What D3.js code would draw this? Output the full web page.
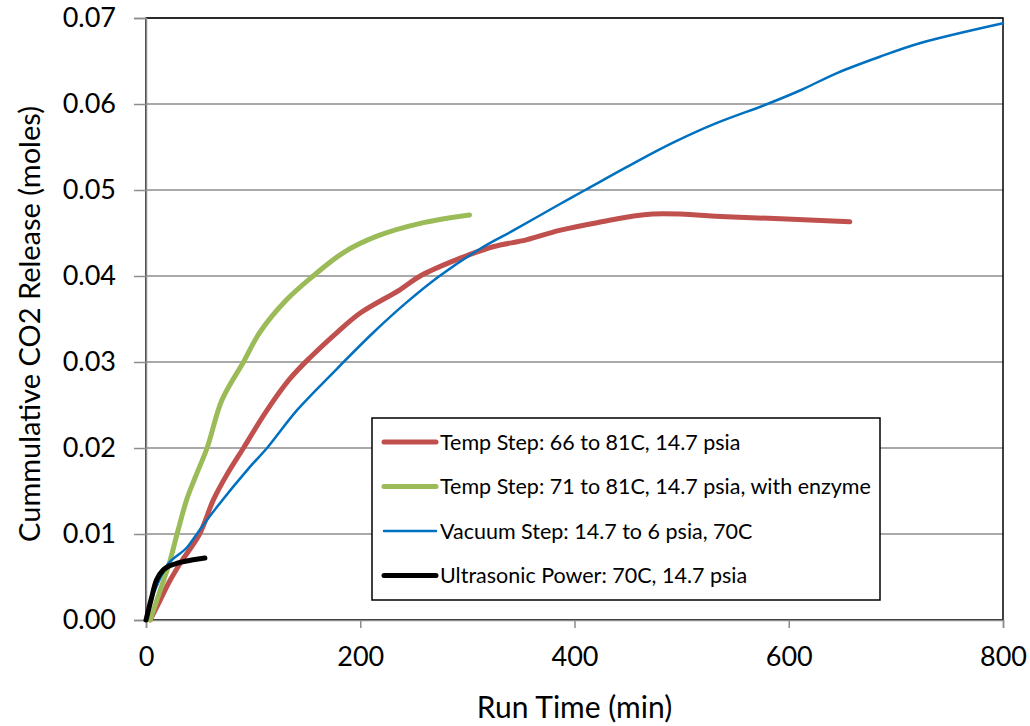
<!DOCTYPE html>
<html>
<head>
<meta charset="utf-8">
<script src="https://d3js.org/d3.v7.min.js"></script>
<style>
    body { margin: 0; background: #fff; }
    text { font-family: Lato, "Open Sans", sans-serif; fill: #000; }
</style>
</head>
<body>
<div id="chart"></div>
<script>

// series data: [run time (min), cumulative CO2 (moles)]
let tempStep66 = [[4, 0], [12, 0.002], [22, 0.0045], [32, 0.0066], [50, 0.01], [63, 0.014], [76, 0.017],
    [91, 0.02], [113, 0.0244], [134, 0.028], [153, 0.0305], [178, 0.0334], [200, 0.0357], [237, 0.0384],
    [256, 0.04], [290, 0.0419], [324, 0.0434], [355, 0.0442], [386, 0.0453], [421, 0.0462],
    [473, 0.0472], [542, 0.0469], [657, 0.0463]];

let tempStep71 = [[4, 0], [12, 0.003], [22, 0.0067], [29, 0.01], [38, 0.014], [46, 0.0166], [57, 0.02],
    [71, 0.0256], [91, 0.03], [106, 0.0334], [131, 0.0372], [156, 0.04], [184, 0.0427], [215, 0.0446],
    [259, 0.0462], [302, 0.0471]];

let vacuumStep = [[0, 0], [4, 0.002], [12, 0.0045], [21, 0.0066], [38, 0.0084], [48, 0.0101],
    [66, 0.0131], [97, 0.0178], [113, 0.02], [141, 0.0244], [175, 0.0288], [212, 0.0334],
    [243, 0.0369], [274, 0.04], [315, 0.0434], [343, 0.0453], [384, 0.0482], [410, 0.05], [458, 0.0533],
    [492, 0.0555], [529, 0.0576], [580, 0.06], [611, 0.0616], [645, 0.0636], [685, 0.0655],
    [723, 0.0671], [800, 0.0694]];

let ultrasonic = [[0, 0], [5, 0.0025], [10, 0.0047], [16, 0.0058], [22, 0.0063], [29, 0.0066],
    [44, 0.007], [55, 0.0072]];

let seriesNames = ["Temp Step: 66 to 81C, 14.7 psia",
    "Temp Step: 71 to 81C, 14.7 psia, with enzyme",
    "Vacuum Step: 14.7 to 6 psia, 70C",
    "Ultrasonic Power: 70C, 14.7 psia"];
let seriesData = [tempStep66, tempStep71, vacuumStep, ultrasonic];
let seriesColors = ["#C0504D", "#9BBB59", "#0070C0", "#000000"];
let seriesWidths = [5, 5, 2.5, 5];

let xTicks = [0, 200, 400, 600, 800];
let yTicks = [0, 0.01, 0.02, 0.03, 0.04, 0.05, 0.06, 0.07];

let width = 1030, height = 726;
let margin = {top: 18, right: 27, bottom: 106, left: 146};
let innerW = width - margin.left - margin.right;
let innerH = height - margin.top - margin.bottom;

let svg = d3.select("#chart").append("svg")
    .attr("width", width)
    .attr("height", height);

let g = svg.append("g")
    .attr("transform", `translate(${margin.left}, ${margin.top})`);

let x = d3.scaleLinear().domain([0, 800]).range([0, innerW]);
let y = d3.scaleLinear().domain([0, 0.07]).range([innerH, 0]);

// horizontal gridlines
g.selectAll(".grid")
    .data(yTicks)
    .enter().append("line")
    .attr("class", "grid")
    .attr("x1", 0).attr("x2", innerW)
    .attr("y1", d => y(d)).attr("y2", d => y(d))
    .attr("stroke", "#8c8c8c")
    .attr("stroke-width", 1.5);

// plot area border (black top and right)
g.append("rect")
    .attr("width", innerW).attr("height", innerH)
    .attr("fill", "none")
    .attr("stroke", "#000")
    .attr("stroke-width", 1.5);

// y axis
let yAxis = g.append("g")
    .call(d3.axisLeft(y).tickValues(yTicks).tickFormat(d3.format(".2f")).tickSize(12).tickPadding(18));

// x axis
let xAxis = g.append("g")
    .attr("transform", `translate(0, ${innerH})`)
    .call(d3.axisBottom(x).tickValues(xTicks).tickFormat(d3.format("d")).tickSize(8).tickPadding(19));

[yAxis, xAxis].forEach(ax => {
    ax.select(".domain").attr("stroke", "#8c8c8c").attr("stroke-width", 1.5);
    ax.selectAll(".tick line").attr("stroke", "#8c8c8c").attr("stroke-width", 1.5);
    ax.selectAll(".tick text").attr("font-size", 27).attr("font-family", "Lato, sans-serif").attr("fill", "#000");
});

// lines
let line = d3.line()
    .x(d => x(d[0]))
    .y(d => y(d[1]))
    .curve(d3.curveCatmullRom.alpha(0.5));

seriesData.forEach((data, i) => {
    g.append("path")
        .datum(data)
        .attr("fill", "none")
        .attr("stroke", seriesColors[i])
        .attr("stroke-width", seriesWidths[i])
        .attr("stroke-linecap", "round")
        .attr("stroke-linejoin", "round")
        .attr("d", line);
});

// axis titles
svg.append("text")
    .attr("x", margin.left + innerW / 2)
    .attr("y", 718)
    .attr("text-anchor", "middle")
    .attr("font-size", 30)
    .text("Run Time (min)");

svg.append("text")
    .attr("transform", `translate(40, ${margin.top + innerH / 2 + 5}) rotate(-90)`)
    .attr("text-anchor", "middle")
    .attr("font-size", 29)
    .text("Cummulative CO2 Release (moles)");

// legend
let legend = svg.append("g")
    .attr("transform", "translate(372, 418)");

legend.append("rect")
    .attr("width", 508).attr("height", 182)
    .attr("fill", "#fff")
    .attr("stroke", "#000")
    .attr("stroke-width", 1.5);

let items = legend.selectAll(".item")
    .data(seriesNames)
    .enter().append("g")
    .attr("class", "item")
    .attr("transform", (d, i) => `translate(0, ${24 + i * 44.5})`);

items.append("line")
    .attr("x1", 12).attr("x2", 64)
    .attr("stroke", (d, i) => seriesColors[i])
    .attr("stroke-width", (d, i) => seriesWidths[i])
    .attr("stroke-linecap", "round");

items.append("text")
    .attr("x", 68)
    .attr("dy", "0.35em")
    .attr("font-size", 21.5)
    .text(d => d);

</script>
</body>
</html>
